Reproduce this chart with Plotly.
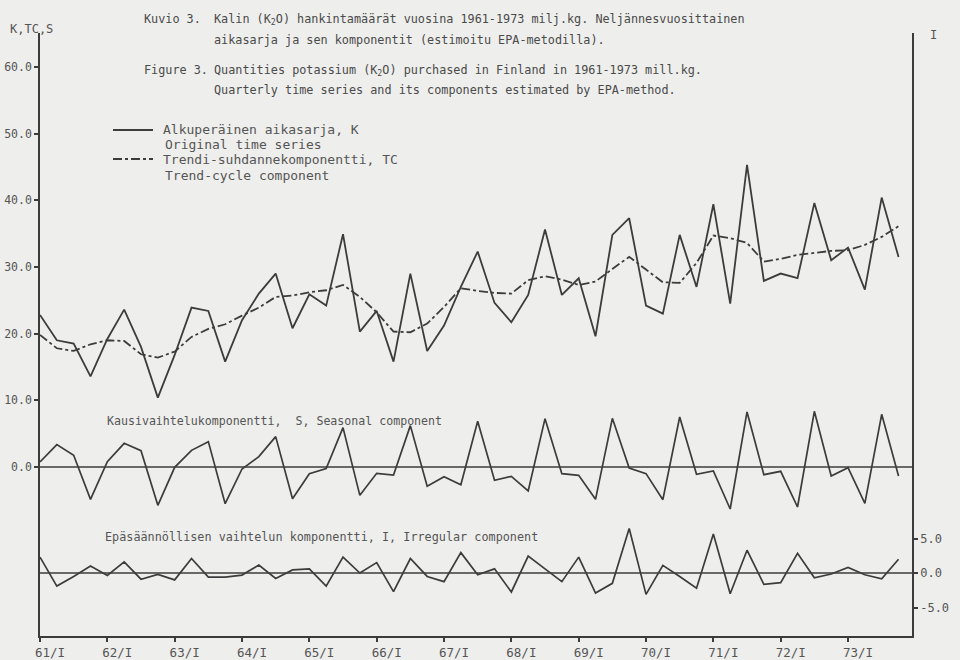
import plotly.graph_objects as go

# ---- data ----
years = ["61", "62", "63", "64", "65", "66", "67", "68", "69", "70", "71", "72", "73"]
tick_labels = [y + "/I" for y in years]

K = [22.8, 19.0, 18.5, 13.6, 19.2, 23.6, 18.0, 10.4, 16.8, 23.9,
     23.4, 15.8, 22.0, 26.0, 29.0, 20.8, 25.9, 24.2, 34.9, 20.3,
     23.4, 15.8, 29.0, 17.4, 21.2, 27.0, 32.3, 24.6, 21.7, 25.8,
     35.6, 25.8, 28.3, 19.6, 34.8, 37.3, 24.2, 23.0, 34.8, 27.0,
     39.4, 24.5, 45.3, 27.9, 29.0, 28.3, 39.6, 31.0, 32.9, 26.6,
     40.4, 31.5]

TC = [19.8, 17.8, 17.4, 18.4, 19.0, 18.9, 16.9, 16.4, 17.3, 19.5,
      20.7, 21.4, 22.7, 23.9, 25.5, 25.7, 26.2, 26.5, 27.3, 25.5,
      23.2, 20.3, 20.2, 21.5, 24.0, 26.8, 26.4, 26.1, 26.0, 28.0,
      28.6, 28.1, 27.3, 27.8, 29.7, 31.5, 29.6, 27.7, 27.6, 30.6,
      34.7, 34.3, 33.6, 30.8, 31.2, 31.8, 32.1, 32.4, 32.5, 33.3,
      34.5, 36.1]

S = [0.75, 3.35, 1.75, -4.85, 0.8, 3.55, 2.45, -5.75, -0.05, 2.5,
     3.8, -5.5, -0.3, 1.55, 4.55, -4.75, -1.0, -0.25, 5.9, -4.25,
     -0.95, -1.2, 6.2, -2.9, -1.45, -2.65, 6.85, -2.0, -1.4, -3.6,
     7.25, -1.0, -1.25, -4.85, 7.3, -0.15, -1.0, -4.9, 7.5, -1.1,
     -0.6, -6.3, 8.25, -1.15, -0.65, -6.0, 8.35, -1.35, -0.1, -5.45,
     7.9, -1.35]

I = [2.3, -1.9, -0.5, 1.0, -0.35, 1.6, -0.9, -0.2, -1.0, 2.1,
     -0.6, -0.6, -0.3, 1.15, -0.8, 0.45, 0.6, -1.9, 2.3, 0.0,
     1.5, -2.7, 2.1, -0.5, -1.25, 2.95, -0.25, 0.6, -2.75, 2.45,
     0.6, -1.25, 2.3, -2.9, -1.5, 6.45, -3.1, 1.1, -0.5, -2.2,
     5.65, -3.0, 3.3, -1.65, -1.4, 2.85, -0.7, -0.15, 0.8, -0.25,
     -0.85, 2.0]

quarters = list(range(len(K)))
tick_pos = list(range(0, len(K), 4))

left_ticks = [0, 10, 20, 30, 40, 50, 60]
right_ticks = [-5, 0, 5]

# ---- style ----
PAPER = "#eeeeec"
INK = "#3c3c3c"
TXT = "#555555"
MONO = "DejaVu Sans Mono"

W, H = 960, 660
ML, MR, MT, MB = 40, 48, 33, 24
PW, PH = W - ML - MR, H - MT - MB


def px(xp):
    return (xp - ML) / PW


def py(yp):
    return (H - MB - yp) / PH


fig = go.Figure()

fig.add_trace(go.Scatter(x=quarters, y=K, mode="lines",
                         line=dict(color=INK, width=1.8), yaxis="y"))
fig.add_trace(go.Scatter(x=quarters, y=TC, mode="lines",
                         line=dict(color=INK, width=1.8, dash="dashdot"), yaxis="y"))
fig.add_trace(go.Scatter(x=quarters, y=S, mode="lines",
                         line=dict(color=INK, width=1.7), yaxis="y"))
fig.add_trace(go.Scatter(x=quarters, y=I, mode="lines",
                         line=dict(color=INK, width=1.7), yaxis="y2"))

# zero lines for S and I
fig.add_shape(type="line", xref="paper", yref="y", x0=0, x1=1, y0=0, y1=0,
              line=dict(color=INK, width=1.6))
fig.add_shape(type="line", xref="paper", yref="y2", x0=0, x1=1, y0=0, y1=0,
              line=dict(color=INK, width=1.6))

# legend samples
fig.add_shape(type="line", xref="paper", yref="paper",
              x0=px(113), x1=px(153), y0=py(130), y1=py(130),
              line=dict(color=INK, width=1.8))
fig.add_shape(type="line", xref="paper", yref="paper",
              x0=px(113), x1=px(153), y0=py(159), y1=py(159),
              line=dict(color=INK, width=1.8, dash="dashdot"))


def note(x, y, text, size, color=TXT, anchor="left"):
    fig.add_annotation(x=px(x), y=py(y), xref="paper", yref="paper",
                       text=text, showarrow=False, xanchor=anchor, yanchor="middle",
                       borderpad=0,
                       font=dict(family=MONO, size=size, color=color))


# titles
note(143, 19, "Kuvio 3.", 11.8, "#4a4a4a")
note(213, 19, "Kalin (K<sub>2</sub>O) hankintamäärät vuosina 1961-1973 milj.kg. Neljännesvuosittainen", 11.8, "#4a4a4a")
note(213, 40, "aikasarja ja sen komponentit (estimoitu EPA-metodilla).", 11.8, "#4a4a4a")
note(143, 70, "Figure 3.", 11.8, "#4a4a4a")
note(213, 70, "Quantities potassium (K<sub>2</sub>O) purchased in Finland in 1961-1973 mill.kg.", 11.8, "#4a4a4a")
note(213, 90, "Quarterly time series and its components estimated by EPA-method.", 11.8, "#4a4a4a")

# legend texts
note(162, 129, "Alkuperäinen aikasarja, K", 13)
note(164, 144, "Original time series", 13)
note(162, 159.5, "Trendi-suhdannekomponentti, TC", 13)
note(164, 175, "Trend-cycle component", 13)

# component labels
note(106, 421, "Kausivaihtelukomponentti,  S, Seasonal component", 11.6)
note(104, 537, "Epäsäännöllisen vaihtelun komponentti, I, Irregular component", 11.8)

# axis titles
note(9, 29, "K,TC,S", 12)
note(929, 35, "I", 12)

fig.update_layout(
    width=W, height=H,
    margin=dict(l=ML, r=MR, t=MT, b=MB, autoexpand=False),
    paper_bgcolor=PAPER, plot_bgcolor=PAPER,
    showlegend=False,
    font=dict(family=MONO, color=TXT, size=12),
    xaxis=dict(range=[0, 51.8], tickvals=tick_pos, ticktext=tick_labels,
               automargin=False,
               showgrid=False, zeroline=False, showline=True, linecolor=INK, linewidth=1.6,
               ticks="outside", ticklen=4, tickcolor=INK, tickwidth=1.5,
               ticklabelshift=10, tickfont=dict(family=MONO, size=12.5, color=TXT)),
    yaxis=dict(range=[-25.34, 65.07], tickvals=left_ticks,
               ticktext=[f"{v:.1f}" for v in left_ticks],
               automargin=False,
               showgrid=False, zeroline=False, showline=True, linecolor=INK, linewidth=1.6,
               ticks="outside", ticklen=4, tickcolor=INK, tickwidth=1.5,
               tickfont=dict(family=MONO, size=11.5, color=TXT)),
    yaxis2=dict(range=[-9.13, 78.26], tickvals=right_ticks,
                ticktext=[f"{v:.1f}" for v in right_ticks],
                overlaying="y", side="right", automargin=False,
                showgrid=False, zeroline=False, showline=True, linecolor=INK, linewidth=1.6,
                ticks="outside", ticklen=4, tickcolor=INK, tickwidth=1.5,
                tickfont=dict(family=MONO, size=12, color=TXT)),
)

fig.write_html(
    "out.html",
    config={"displayModeBar": False},
    post_script="document.body.style.margin='0';document.body.style.background='%s';" % PAPER,
)
